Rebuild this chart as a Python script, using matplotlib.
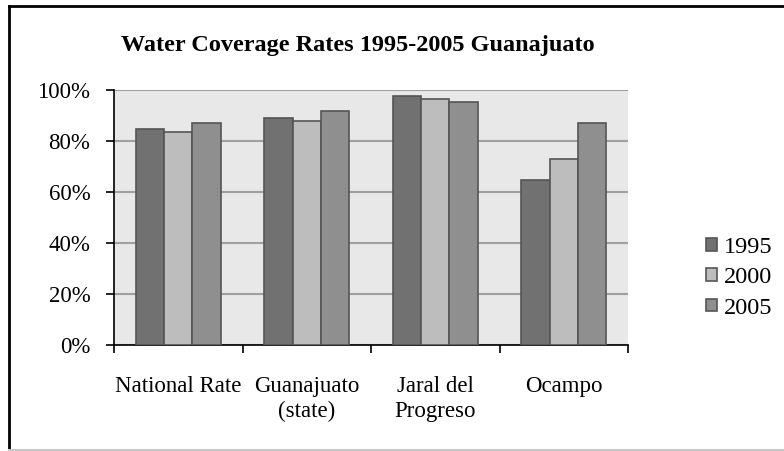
import matplotlib.pyplot as plt
from matplotlib.lines import Line2D
import numpy as np

categories = ['National Rate', 'Guanajuato\n(state)', 'Jaral del\nProgreso', 'Ocampo']
years = ['1995', '2000', '2005']
v1995 = [84.6, 89.1, 97.5, 64.8]
v2000 = [83.5, 87.7, 96.3, 72.9]
v2005 = [87.2, 91.8, 95.4, 87.2]
colors = ['#717171', '#bdbdbd', '#8f8f8f']

plt.rcParams['font.family'] = ['Liberation Serif', 'DejaVu Serif']

fig = plt.figure(figsize=(7.84, 4.51), dpi=100)
ax = fig.add_axes([114 / 784, 1 - 345 / 451, 514 / 784, 255 / 451])
ax.set_facecolor('#e8e8e8')

x = np.arange(len(categories))
w = 0.22
for i, (vals, c) in enumerate(zip([v1995, v2000, v2005], colors)):
    ax.bar(x + (i - 1) * w, vals, w, color=c, edgecolor='#555555', linewidth=1.2,
           label=years[i], zorder=3)

ax.set_xlim(-0.5, 3.5)
ax.set_ylim(0, 100)
ax.set_yticks(range(0, 101, 20))
ax.set_yticklabels([f'{v}%' for v in range(0, 101, 20)], fontsize=16.5)
ax.yaxis.grid(True, color='#a0a0a0', linewidth=1.5, zorder=1)
ax.set_xticks([-0.5, 0.5, 1.5, 2.5, 3.5])
ax.set_xticklabels([])
ax.set_xticks(x, minor=True)
ax.set_xticklabels(categories, minor=True, fontsize=16.5, linespacing=1.25, va='top')
ax.tick_params(axis='x', which='minor', length=0, pad=22.5)
ax.tick_params(axis='both', which='major', direction='out', length=6, width=1.2, color='black')
ax.tick_params(axis='y', pad=11)
for s in ['top', 'right']:
    ax.spines[s].set_visible(False)
for s in ['left', 'bottom']:
    ax.spines[s].set_linewidth(1.2)

fig.text(0.456, 1 - 45 / 451, 'Water Coverage Rates 1995-2005 Guanajuato',
         ha='center', va='center', fontsize=17.5, fontweight='bold')

ax.legend(loc='center left', bbox_to_anchor=(1.11, 0.263), frameon=False, fontsize=17.5,
          handlelength=0.42, handleheight=0.42, handletextpad=0.3, labelspacing=0.38)

# border around the chart
fig.add_artist(Line2D([8.5 / 784, 1], [1 - 6 / 451, 1 - 6 / 451], color='black', lw=2))
fig.add_artist(Line2D([8.5 / 784, 8.5 / 784], [1 - 6 / 451, 1 / 451], color='black', lw=2))
fig.add_artist(Line2D([8.5 / 784, 1], [1 / 451, 1 / 451], color='#c8c8c8', lw=1.5))

fig.savefig('out.png', dpi=100)
